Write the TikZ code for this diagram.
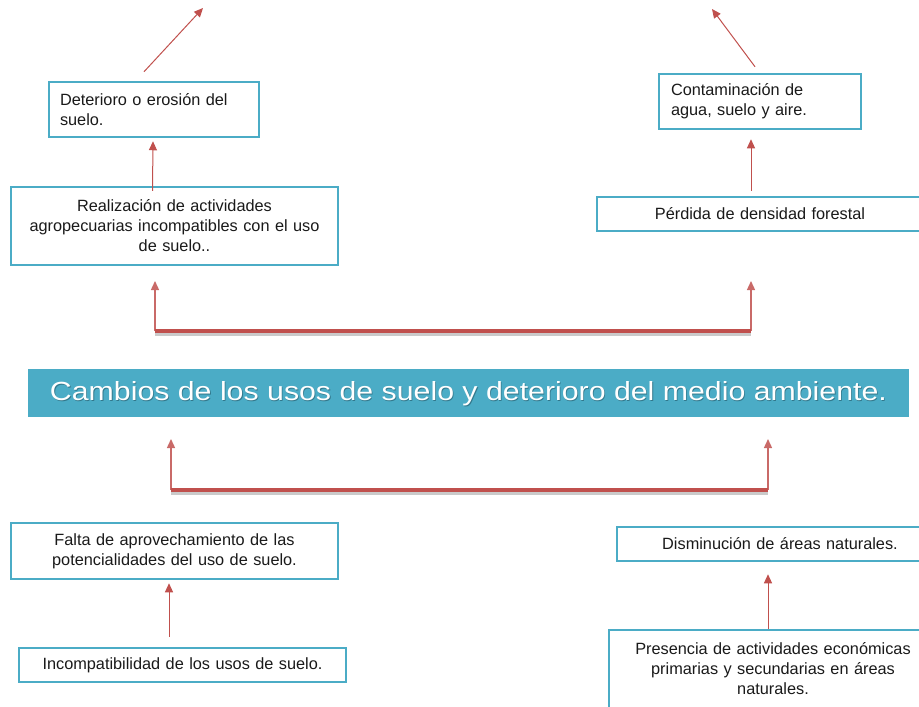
\documentclass[tikz,border=0pt]{standalone}
\usepackage{fontspec}
\setmainfont{Liberation Sans}
\usetikzlibrary{arrows.meta}
\definecolor{boxblue}{HTML}{4BACC6}
\definecolor{arrred}{HTML}{C0504D}
\definecolor{txt}{HTML}{1A1A1A}
\definecolor{tshadow}{HTML}{1F4F5E}
\newcommand{\boxfont}{\fontsize{16.3}{20}\selectfont}
\newcommand{\titletext}{\resizebox{837pt}{19pt}{\fontsize{25}{30}\selectfont Cambios de los usos de suelo y deterioro del medio ambiente.}}
\begin{document}
\begin{tikzpicture}[x=1pt,y=-1pt,
  box/.style={draw=boxblue, line width=2.5pt, fill=white, text=txt, font=\boxfont, inner xsep=0pt, inner ysep=0pt},
  arr/.style={draw=arrred, line width=1pt, -{Triangle[width=8pt,length=9pt]}},
  barr/.style={draw=arrred!85, line width=1.4pt, -{Triangle[width=8pt,length=9pt]}},
  thickred/.style={draw=arrred, line width=4.5pt},
  shadowline/.style={draw=black!35, opacity=0.6, line width=4pt}]
\useasboundingbox (0,0) rectangle (919,707);
% top boxes
\node[box, text width=188pt, align=left, minimum width=210pt, minimum height=55pt] (det) at (154,109.5) {Deterioro o erosión del\\suelo.};
\node[box, text width=305pt, align=center, minimum width=327pt, minimum height=78pt] (real) at (174.5,226) {Realización de actividades\\agropecuarias incompatibles con el uso\\de suelo..};
\node[box, text width=178pt, align=left, minimum width=202pt, minimum height=55pt] (cont) at (760,101.5) {Contaminación de\\agua, suelo y aire.};
\node[box, text width=304pt, align=center, minimum width=326pt, minimum height=34pt] (perd) at (760,214) {Pérdida de densidad forestal};
% bottom boxes
\node[box, text width=305pt, align=center, minimum width=327pt, minimum height=56pt] (falta) at (174.5,551) {Falta de aprovechamiento de las\\potencialidades del uso de suelo.};
\node[box, text width=305pt, align=center, minimum width=327pt, minimum height=34pt] (incomp) at (182.5,665) {Incompatibilidad de los usos de suelo.};
\node[box, text width=304pt, align=center, minimum width=326pt, minimum height=34pt] (dism) at (780,544) {Disminución de áreas naturales.};
\node[box, text width=306pt, align=center, minimum width=328pt, minimum height=78pt] (pres) at (773,669) {Presencia de actividades económicas\\primarias y secundarias en áreas\\naturales.};
% title bar
\node[fill=boxblue, minimum width=881pt, minimum height=48pt, inner sep=0pt] (title) at (468.5,393) {};
\node[anchor=base, text=tshadow, opacity=0.55, inner sep=0pt] (tsh) at (469.3,401.5) {\titletext};
\node[anchor=base, text=white, inner sep=0pt] (ttl) at (468.5,400) {\titletext};
% arrows between boxes
\draw[arr] ([xshift=-22pt,yshift=-5pt]real.north) -- ([xshift=-1pt,yshift=-3pt]det.south);
\draw[arr] ([xshift=-9pt,yshift=5pt]perd.north) -- ([xshift=-9pt,yshift=-9pt]cont.south);
\draw[arr] ([xshift=-13.5pt,yshift=10pt]incomp.north) -- ([xshift=-5.5pt,yshift=-3pt]falta.south);
\draw[arr] ([xshift=-5pt]pres.north) -- ([xshift=-12pt,yshift=-12pt]dism.south);
% diagonal arrows with free ends
\coordinate (d1) at (203,8);
\coordinate (d2) at (712,9);
\draw[arr] ([xshift=-10pt,yshift=9pt]det.north) -- (d1);
\draw[arr] ([xshift=-5pt,yshift=6pt]cont.north) -- (d2);
% upper bracket
\coordinate (ul) at (155,331);
\coordinate (ur) at (751,331);
\coordinate (ult) at (155,281);
\coordinate (urt) at (751,281);
\draw[shadowline] ([yshift=-2.5pt]ul) -- ([yshift=-2.5pt]ur);
\draw[barr] (ul) -- (ult);
\draw[barr] (ur) -- (urt);
\draw[thickred] (ul) -- (ur);
% lower bracket
\coordinate (ll) at (171,490);
\coordinate (lr) at (768,490);
\coordinate (llt) at (171,439);
\coordinate (lrt) at (768,439);
\draw[shadowline] ([yshift=-2.5pt]ll) -- ([yshift=-2.5pt]lr);
\draw[barr] (ll) -- (llt);
\draw[barr] (lr) -- (lrt);
\draw[thickred] (ll) -- (lr);
\end{tikzpicture}
\end{document}
